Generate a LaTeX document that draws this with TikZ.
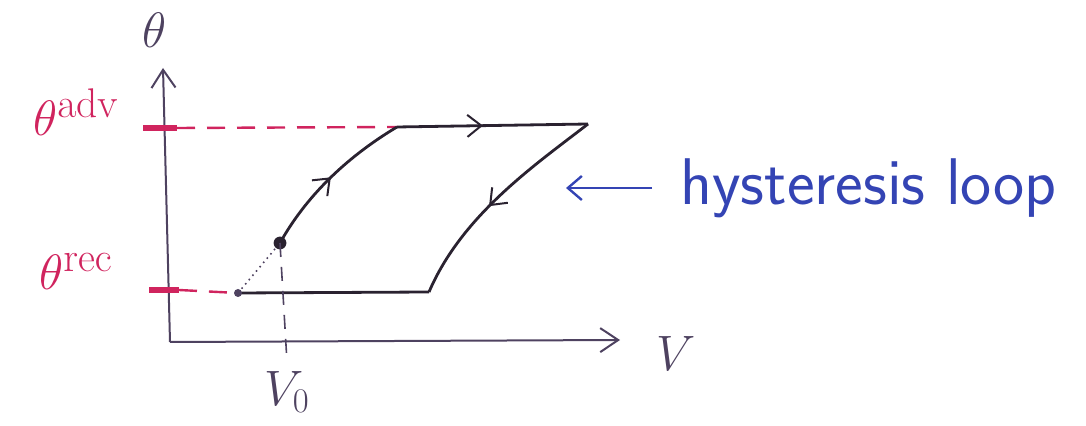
\documentclass[tikz,border=0pt]{standalone}
\usepackage{tikz}
\usetikzlibrary{arrows.meta,decorations.markings}
\definecolor{axisgray}{HTML}{4E4260}
\definecolor{markred}{HTML}{D0245E}
\definecolor{penblue}{HTML}{3444B4}
\definecolor{loopink}{HTML}{2A2230}

\begin{document}
\begin{tikzpicture}[
    x=0.5pt, y=-0.5pt,
    axis/.style={draw=axisgray, line width=1pt, -{Straight Barb[length=9pt,width=12pt,line width=1pt]}},
    branch/.style={draw=loopink, line width=1.4pt},
    midarrow/.style={postaction={decorate, decoration={markings,
                     mark=at position #1 with {\arrow{Straight Barb[length=7pt,width=11pt,line width=1pt]}}}}},
    guide/.style={draw=markred, line width=1.2pt, dash pattern=on 9pt off 6pt},
    tickmark/.style={draw=markred, line width=2.6pt},
    label/.style={inner sep=1pt, font=\fontsize{28}{30}\selectfont}
]
    \useasboundingbox (0,0) rectangle (1086,426);

    % Axes
    \coordinate (origin) at (170,342);
    \coordinate (ytip) at (163,68);
    \coordinate (xtip) at (620,340);
    \draw[axis] (origin) -- (ytip);
    \draw[axis] (origin) -- (xtip);
    \node[label, text=axisgray] (thetalab) at (155,30) {$\theta$};
    \node[label, text=axisgray] (vlab) at (676,354) {$V$};

    % Loop corners
    \coordinate (start) at (280,243);
    \coordinate (topleft) at (397,127);
    \coordinate (topright) at (588,124);
    \coordinate (botright) at (429,292);
    \coordinate (botleft) at (238,293);

    % Angle markers on the theta axis
    \coordinate (advtick) at (165,128);
    \coordinate (rectick) at (167,290);
    \draw[tickmark] ([xshift=-11pt]advtick) -- ([xshift=6pt]advtick);
    \draw[tickmark] ([xshift=-9pt]rectick) -- ([xshift=6pt]rectick);
    \draw[guide] ([xshift=6pt]advtick) -- (topleft);
    \draw[guide] ([xshift=6pt]rectick) -- (botleft);
    \node[label, text=markred] (advlab) at (76,112) {$\theta^{\mathrm{adv}}$};
    \node[label, text=markred] (reclab) at (76,272) {$\theta^{\mathrm{rec}}$};

    % Hysteresis loop
    \draw[branch, midarrow=0.5] (start) .. controls (305,198) and (345,158) .. (topleft);
    \draw[branch, midarrow=0.45] (topleft) -- (topright);
    \draw[branch, midarrow=0.55] (topright) .. controls (535,165) and (462,215) .. (botright);
    \draw[branch] (botright) -- (botleft);
    \draw[draw=axisgray, line width=0.8pt, dotted] (botleft) -- (start);
    \fill[loopink] (start) circle (3.2pt);
    \fill[axisgray] (botleft) circle (2pt);

    % Starting volume
    \coordinate (v0tick) at (287,362);
    \draw[draw=axisgray, line width=0.8pt, dash pattern=on 7pt off 5pt] (start) -- (v0tick);
    \node[label, text=axisgray, font=\fontsize{24}{26}\selectfont] (v0lab) at (287,392) {$V_0$};

    % Annotation
    \node[label, text=penblue, anchor=west] (hyslab) at (678,188) {\fontsize{33}{36}\selectfont\sffamily hysteresis loop};
    \draw[draw=penblue, line width=1.2pt, -{Straight Barb[length=7pt,width=12pt,line width=1.2pt]}] ([xshift=-13pt]hyslab.west) -- ++(-86,0) coordinate (hystip);
\end{tikzpicture}
\end{document}
